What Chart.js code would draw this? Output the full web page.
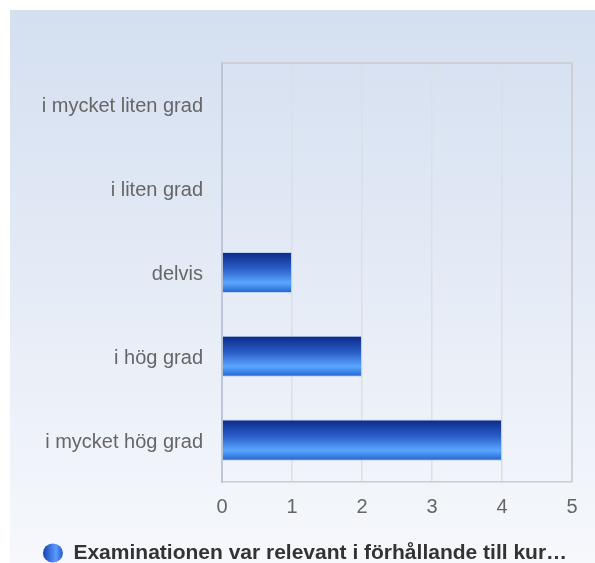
<!DOCTYPE html>
<html>
<head>
<meta charset="utf-8">
<script src="https://cdn.jsdelivr.net/npm/chart.js@4/dist/chart.umd.min.js"></script>
<style>
  html, body { margin: 0; padding: 0; overflow: hidden; background: #fff; }
  #wrap { position: relative; width: 595px; height: 563px; overflow: hidden; }
  canvas { position: absolute; left: 0; top: 0; }
</style>
</head>
<body>
<div id="wrap"><canvas id="chart" width="595" height="580"></canvas></div>
<script>
// Kategorier (uppifrån och ned) och antal svar
const kategorier = ['i mycket liten grad', 'i liten grad', 'delvis', 'i hög grad', 'i mycket hög grad'];
const antal = [0, 0, 1, 2, 4];
const serieNamn = 'Examinationen var relevant i förhållande till kur…';
const xTicks = [0, 1, 2, 3, 4, 5];

const fontFam = "'Liberation Sans', Arial, Helvetica, sans-serif";

// bakgrund med gradient och ram runt ritytan
const bakgrund = {
  id: 'bakgrund',
  beforeDraw(chart) {
    const c = chart.ctx;
    const g = c.createLinearGradient(0, 10, 0, 563);
    g.addColorStop(0, '#d4dff0');
    g.addColorStop(1, '#f6f8fc');
    c.save();
    c.fillStyle = g;
    c.fillRect(10, 10, 585, 570);
    c.restore();
  },
  afterDatasetsDraw(chart) {
    const a = chart.chartArea;
    const c = chart.ctx;
    c.save();
    c.strokeStyle = '#c9ccd1';
    c.lineWidth = 1.5;
    c.beginPath();
    c.moveTo(a.left, a.top);
    c.lineTo(a.right, a.top);
    c.lineTo(a.right, a.bottom);
    c.stroke();
    c.restore();
  }
};

function stapelFarg(ctx) {
  const chart = ctx.chart;
  const area = chart.chartArea;
  if (!area || ctx.type !== 'data') return '#3a78e0';
  const cy = chart.scales.y.getPixelForValue(ctx.dataIndex);
  const half = (area.height / kategorier.length) * 0.49 / 2;
  const g = chart.ctx.createLinearGradient(0, cy - half, 0, cy + half);
  g.addColorStop(0, '#0a2987');
  g.addColorStop(0.4, '#2a5cc8');
  g.addColorStop(0.75, '#5aa7ff');
  g.addColorStop(1, '#2063cc');
  return g;
}

const chart = new Chart(document.getElementById('chart'), {
  type: 'bar',
  data: {
    labels: kategorier,
    datasets: [{
      label: serieNamn,
      data: antal,
      backgroundColor: stapelFarg,
      borderColor: 'rgba(190,205,235,0.9)',
      borderWidth: 1,
      borderSkipped: 'start',
      barPercentage: 0.7,
      categoryPercentage: 0.7
    }]
  },
  options: {
    indexAxis: 'y',
    responsive: false,
    animation: false,
    layout: { padding: { top: 63, right: 23, left: 38, bottom: 6.5 } },
    scales: {
      x: {
        min: 0,
        max: 5,
        afterBuildTicks(axis) { axis.ticks = xTicks.map(v => ({ value: v })); },
        afterFit(axis) { axis.height = 50.5; },
        grid: { color: '#dcdfe4', lineWidth: 1.5, drawTicks: false },
        border: { color: '#c9ccd1', width: 1.5 },
        ticks: { color: '#666', padding: 13, font: { family: fontFam, size: 20 } }
      },
      y: {
        afterFit(axis) { axis.width = 184; },
        grid: { display: false, drawTicks: false },
        border: { color: '#bcc6d8', width: 2 },
        ticks: { color: '#666', padding: 19, labelOffset: 2, font: { family: fontFam, size: 20 } }
      }
    },
    plugins: {
      tooltip: { enabled: false },
      legend: {
        position: 'bottom',
        labels: {
          usePointStyle: true,
          pointStyle: 'circle',
          boxHeight: 13.5,
          pointStyleWidth: 20,
          padding: 10,
          color: '#333',
          font: { family: fontFam, size: 21, weight: 'bold' },
          generateLabels(ch) {
            const g = ch.ctx.createLinearGradient(44, 0, 64, 0);
            g.addColorStop(0, '#1a48b8');
            g.addColorStop(0.6, '#5a9cff');
            g.addColorStop(1, '#1a4cc0');
            return [{
              text: serieNamn,
              fillStyle: g,
              strokeStyle: g,
              lineWidth: 0,
              pointStyle: 'circle',
              datasetIndex: 0,
              fontColor: '#333'
            }];
          }
        }
      }
    }
  },
  plugins: [bakgrund]
});
</script>
</body>
</html>
